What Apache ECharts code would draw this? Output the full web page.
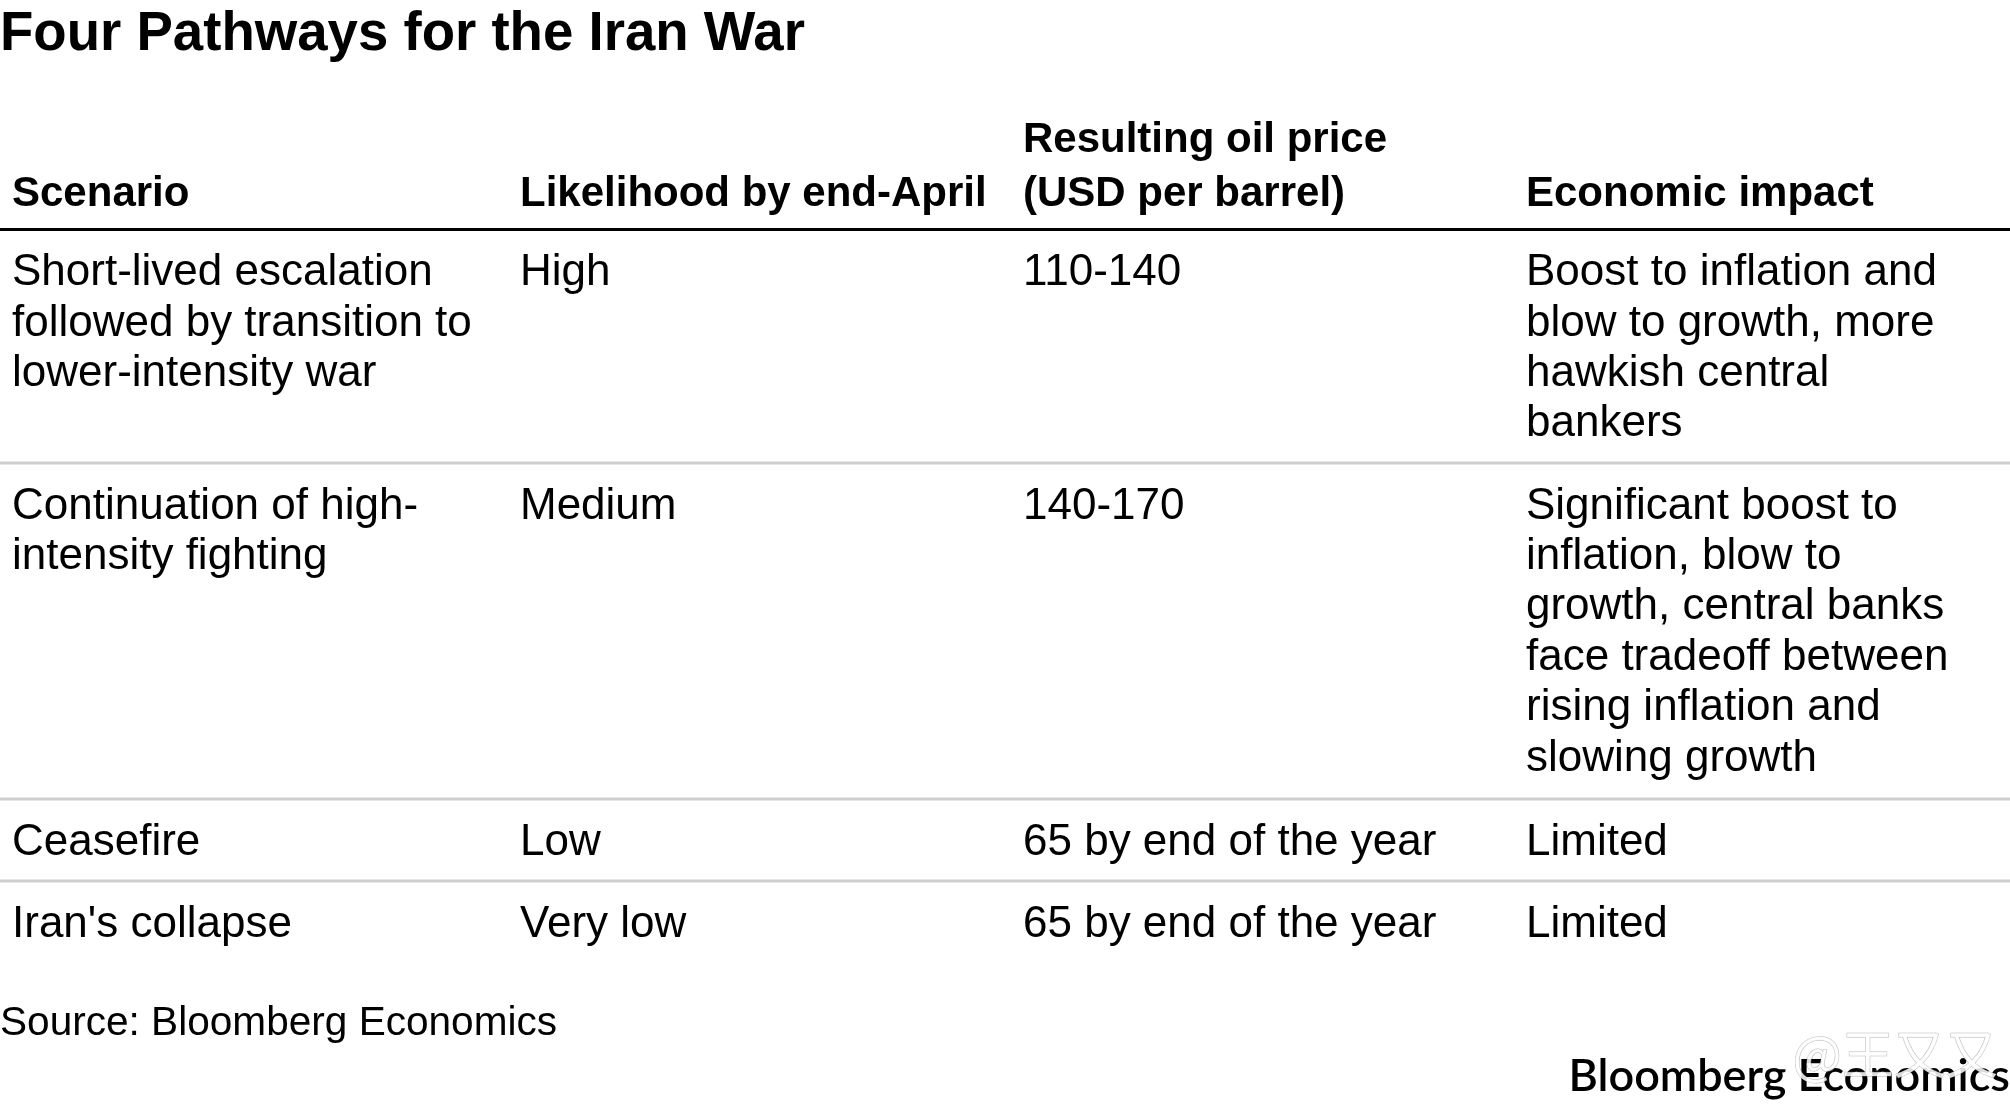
<!DOCTYPE html>
<html>
<head>
<meta charset="utf-8">
<title>Four Pathways for the Iran War</title>
<script src="https://cdn.jsdelivr.net/npm/echarts@6/dist/echarts.min.js"></script>
<style>
  html, body { margin: 0; padding: 0; background: #fff; }
  #chart { width: 2010px; height: 1104px; }
</style>
</head>
<body>
<div id="chart"></div>
<script>
const titleText = 'Four Pathways for the Iran War'
const headers = ['Scenario', 'Likelihood by end-April', 'Resulting oil price\n(USD per barrel)', 'Economic impact']
const scenarios = [
  'Short-lived escalation\nfollowed by transition to\nlower-intensity war',
  'Continuation of high-\nintensity fighting',
  'Ceasefire',
  "Iran's collapse",
]
const likelihood = ['High', 'Medium', 'Low', 'Very low']
const oilPrice = ['110-140', '140-170', '65 by end of the year', '65 by end of the year']
const impact = [
  'Boost to inflation and\nblow to growth, more\nhawkish central\nbankers',
  'Significant boost to\ninflation, blow to\ngrowth, central banks\nface tradeoff between\nrising inflation and\nslowing growth',
  'Limited',
  'Limited',
]
const sourceText = 'Source: Bloomberg Economics'
const brandText = 'Bloomberg Economics'
const watermarkText = '@王又又'

// 版面位置（像素）
const columnX = [12, 520, 1023, 1526]
const rowTop = [229.5, 463, 799, 881]
const headerLastLineY = 194.5
const headerLineGap = 54
const firstLineGap = 43.5
const lineGap = 50.4
const FONT = '"Liberation Sans", Arial, sans-serif'

const columns = [scenarios, likelihood, oilPrice, impact]
const headerCells = headers.map((text, col) => {
  const lines = text.split('\n')
  return { value: [columnX[col], headerLastLineY - (lines.length - 1) * headerLineGap], lines, bold: true }
})
const bodyCells = []
columns.forEach((column, col) => {
  column.forEach((text, row) => {
    bodyCells.push({ value: [columnX[col], rowTop[row] + firstLineGap], lines: text.split('\n'), bold: false })
  })
})
const cells = headerCells.concat(bodyCells)

function renderCell(params, api) {
  const cell = cells[params.dataIndex]
  const [x, y] = api.coord([api.value(0), api.value(1)])
  const gap = cell.bold ? headerLineGap : lineGap
  return {
    type: 'group',
    children: cell.lines.map((line, i) => ({
      type: 'text',
      style: {
        x,
        y: y + i * gap,
        text: line,
        fill: '#000',
        font: cell.bold ? 'bold 42px ' + FONT : '44px ' + FONT,
        textAlign: 'left',
        textVerticalAlign: 'middle',
      },
    })),
  }
}

function renderRule(params, api) {
  const start = api.coord([0, api.value(0)])
  const end = api.coord([2010, api.value(0)])
  return {
    type: 'line',
    shape: { x1: start[0], y1: start[1], x2: end[0], y2: end[1] },
    style: { stroke: params.dataIndex === 0 ? '#000' : '#cfcfcf', lineWidth: 3 },
  }
}

const chart = echarts.init(document.getElementById('chart'))
chart.setOption({
  animation: false,
  backgroundColor: '#fff',
  title: {
    text: titleText,
    left: 0,
    top: 7,
    padding: 0,
    textStyle: { color: '#000', fontFamily: FONT, fontWeight: 'bold', fontSize: 54.6 },
  },
  grid: { left: 0, right: 0, top: 0, bottom: 0 },
  xAxis: { type: 'value', min: 0, max: 2010, show: false },
  yAxis: { type: 'value', min: 0, max: 1104, inverse: true, show: false },
  series: [
    {
      type: 'custom',
      name: 'rules',
      coordinateSystem: 'cartesian2d',
      silent: true,
      encode: { y: 0 },
      data: rowTop.map((y) => [y]),
      renderItem: renderRule,
    },
    {
      type: 'custom',
      name: 'cells',
      coordinateSystem: 'cartesian2d',
      silent: true,
      encode: { x: 0, y: 1 },
      data: cells.map((c) => c.value),
      renderItem: renderCell,
    },
  ],
  graphic: [
    {
      type: 'text',
      left: 0,
      top: 1003,
      style: { text: sourceText, fill: '#000', font: '40.6px ' + FONT },
    },
    {
      type: 'text',
      right: 0,
      top: 1054,
      style: { text: brandText, fill: '#000', font: '600 45px Lato, sans-serif' },
    },
    {
      type: 'text',
      left: 1792,
      top: 1028,
      z: 10,
      style: {
        text: watermarkText,
        fill: 'rgba(255,255,255,0.85)',
        stroke: 'rgba(130,130,130,0.55)',
        lineWidth: 1,
        font: '52px "Noto Sans CJK SC", sans-serif',
      },
    },
  ],
})
window.addEventListener('resize', () => chart.resize())
</script>
</body>
</html>
